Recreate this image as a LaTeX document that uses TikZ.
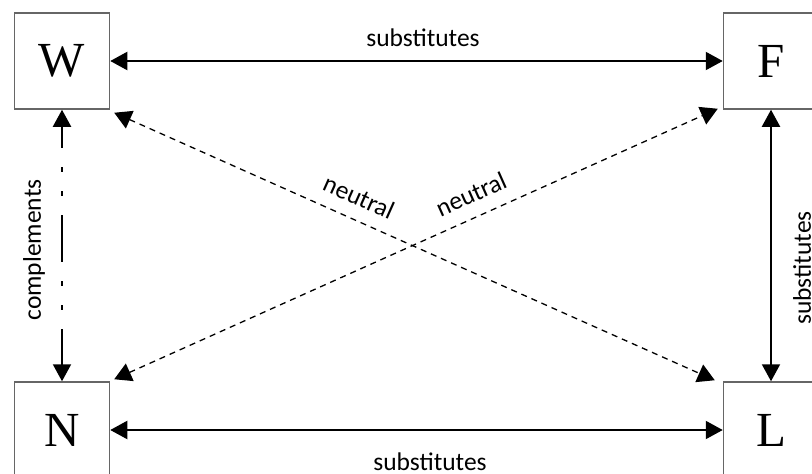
\documentclass[tikz,border=0pt]{standalone}
\usepackage{fontspec}
\setmainfont{Liberation Serif}
\newfontfamily\labfont{Carlito}
\usetikzlibrary{arrows.meta}
\begin{document}
\begin{tikzpicture}[x=1pt,y=-1pt,
  box/.style={draw=black!60,line width=1.5pt,minimum width=95pt,minimum height=96pt,inner sep=0pt,font=\fontsize{49}{49}\selectfont},
  lab/.style={font=\labfont\fontsize{25.5}{25.5}\selectfont,inner sep=0pt},
  conn/.style={line width=2pt,{Triangle[length=17pt,width=18pt]}-{Triangle[length=17pt,width=18pt]}},
  neut/.style={line width=1.3pt,dash pattern=on 6pt off 5pt,{Triangle[length=17pt,width=19pt]}-{Triangle[length=17pt,width=19pt]}},
  comp/.style={line width=2pt,dash pattern=on 47pt off 19pt on 5pt off 19pt on 5pt off 19pt,dash phase=25pt,{Triangle[length=17pt,width=18pt]}-{Triangle[length=17pt,width=18pt]}}
]
\useasboundingbox (0,0) rectangle (812,474);
\node[box] (W) at (62,61) {W};
\node[box] (F) at (771,61) {F};
\node[box] (N) at (62,430) {N};
\node[box] (L) at (771,430) {L};
\draw[conn] (W.east) -- (F.west);
\draw[conn] (N.east) -- (L.west);
\draw[conn] (F.south) -- (L.north);
\draw[comp] (W.south) -- (N.north);
\coordinate (wt) at ([shift={(4,3)}]W.south east);
\coordinate (lt) at ([shift={(-8,-1)}]L.north west);
\coordinate (nt) at ([shift={(4,-2)}]N.north east);
\coordinate (ft) at ([shift={(-5,-1)}]F.south west);
\draw[neut] (wt) -- (lt);
\draw[neut] (nt) -- (ft);
\node[lab] (s1) at (423,38) {substitutes};
\node[lab] (s2) at (430,462) {substitutes};
\node[lab,rotate=90] (c1) at (34,250) {complements};
\node[lab,rotate=90] (s3) at (802,268) {substitutes};
\node[lab,rotate=-24] (n1) at (359,197) {neutral};
\node[lab,rotate=24] (n2) at (471,194) {neutral};
\end{tikzpicture}
\end{document}
